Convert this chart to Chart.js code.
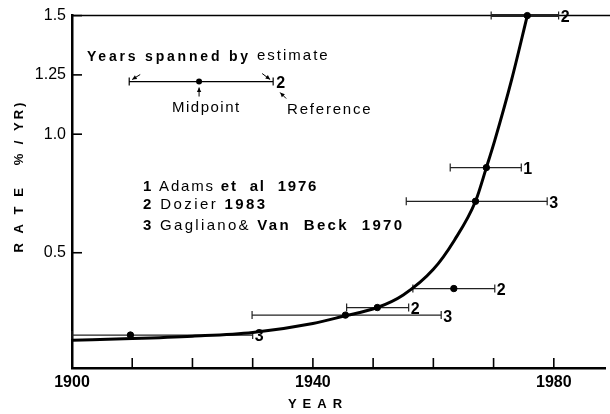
<!DOCTYPE html>
<html>
<head>
<meta charset="utf-8">
<script src="https://cdn.jsdelivr.net/npm/chart.js@4.4.1/dist/chart.umd.min.js"></script>
<style>
  html, body { margin: 0; padding: 0; background: #fff; }
  #wrap { width: 610px; height: 414px; position: relative; }
</style>
</head>
<body>
<div id="wrap"><canvas id="rate"></canvas></div>
<script>
// fitted curve (year, rate %/yr)
const curveYear = [1900, 1910, 1920, 1930, 1940, 1945, 1950.7, 1955, 1960, 1963.5, 1967, 1968.8, 1970.2, 1973, 1975.6];
const curveRate = [0.131, 0.138, 0.148, 0.164, 0.202, 0.232, 0.269, 0.322, 0.43, 0.553, 0.717, 0.859, 0.974, 1.23, 1.5];

// estimates: midpoint, span and reference number
const estYear = [1975.6, 1968.8, 1967.0, 1963.4, 1950.7, 1945.4, 1909.7];
const estLow  = [1969.6, 1962.8, 1955.5, 1956.6, 1945.6, 1929.9, 1900];
const estHigh = [1980.8, 1974.6, 1978.9, 1970.2, 1955.9, 1961.3, 1930];
const estRate = [1.5, 0.859, 0.717, 0.349, 0.269, 0.237, 0.153];
const estRef  = ["2", "1", "3", "2", "2", "3", "3"];

// axes
const xTicks = [1900, 1910, 1920, 1930, 1940, 1950, 1960, 1970, 1980];
const xLabels = [1900, 1940, 1980];
const yTicks = [0.5, 1.0, 1.25, 1.5];
const yLabels = ["0.5", "1.0", "1.25", "1.5"];

// key example (years spanned / midpoint / reference)
const keyLow = 1909.5, keyMid = 1921.1, keyHigh = 1933.4, keyRate = 1.222;

const FONT = "'Liberation Sans', Arial, sans-serif";

function txt(ctx, parts, x, y, size, spacing) {
  ctx.save();
  ctx.textBaseline = "middle";
  ctx.textAlign = "left";
  ctx.letterSpacing = (spacing || 0) + "px";
  let cx = x;
  parts.forEach(([s, bold]) => {
    ctx.font = (bold ? "bold " : "") + size + "px " + FONT;
    ctx.fillText(s, cx, y);
    cx += ctx.measureText(s).width;
  });
  ctx.restore();
}

function arrow(ctx, x1, y1, x2, y2) {
  ctx.beginPath();
  ctx.moveTo(x1, y1);
  ctx.lineTo(x2, y2);
  ctx.stroke();
  const a = Math.atan2(y2 - y1, x2 - x1);
  ctx.beginPath();
  ctx.moveTo(x2, y2);
  ctx.lineTo(x2 - 5 * Math.cos(a - 0.45), y2 - 5 * Math.sin(a - 0.45));
  ctx.lineTo(x2 - 5 * Math.cos(a + 0.45), y2 - 5 * Math.sin(a + 0.45));
  ctx.closePath();
  ctx.fill();
}

const extras = {
  id: "extras",
  beforeDatasetsDraw(chart) {
    const { ctx, chartArea: a } = chart;
    const xs = chart.scales.x, ys = chart.scales.y;
    ctx.save();
    ctx.strokeStyle = "#000";
    ctx.fillStyle = "#000";
    // top frame line
    ctx.lineWidth = 1.5;
    ctx.beginPath();
    ctx.moveTo(a.left, a.top);
    ctx.lineTo(chart.width, a.top);
    ctx.stroke();
    // inside ticks
    ctx.lineWidth = 1.6;
    xTicks.forEach(v => {
      const px = xs.getPixelForValue(v);
      ctx.beginPath();
      ctx.moveTo(px, a.bottom);
      ctx.lineTo(px, a.bottom - 10);
      ctx.stroke();
    });
    yTicks.forEach(v => {
      const py = ys.getPixelForValue(v);
      ctx.beginPath();
      ctx.moveTo(a.left, py);
      ctx.lineTo(a.left + 10, py);
      ctx.stroke();
    });
    // error bars
    estYear.forEach((m, i) => {
      const x1 = xs.getPixelForValue(estLow[i]);
      const x2 = xs.getPixelForValue(estHigh[i]);
      const py = ys.getPixelForValue(estRate[i]);
      ctx.lineWidth = i === 0 ? 3 : 1.2;
      ctx.strokeStyle = "#222";
      ctx.beginPath();
      ctx.moveTo(x1, py);
      ctx.lineTo(x2, py);
      ctx.stroke();
      ctx.lineWidth = 1.2;
      ctx.beginPath();
      ctx.moveTo(x1, py - 4); ctx.lineTo(x1, py + 4);
      ctx.moveTo(x2, py - 4); ctx.lineTo(x2, py + 4);
      ctx.stroke();
      txt(ctx, [[estRef[i], true]], x2 + 2, py + 2, 16, 0);
    });
    ctx.restore();
  },
  afterDraw(chart) {
    const { ctx } = chart;
    const xs = chart.scales.x, ys = chart.scales.y;
    ctx.save();
    ctx.fillStyle = "#000";
    ctx.strokeStyle = "#000";

    // key
    const k1 = xs.getPixelForValue(keyLow), k2 = xs.getPixelForValue(keyHigh);
    const km = xs.getPixelForValue(keyMid), ky = ys.getPixelForValue(keyRate);
    ctx.lineWidth = 1.2;
    ctx.beginPath();
    ctx.moveTo(k1, ky); ctx.lineTo(k2, ky);
    ctx.moveTo(k1, ky - 4); ctx.lineTo(k1, ky + 4);
    ctx.moveTo(k2, ky - 4); ctx.lineTo(k2, ky + 4);
    ctx.stroke();
    ctx.beginPath();
    ctx.arc(km, ky, 3, 0, Math.PI * 2);
    ctx.fill();
    ctx.lineWidth = 1;
    arrow(ctx, k1 + 11, ky - 7, k1 + 3, ky - 2);
    arrow(ctx, k2 - 11, ky - 8, k2 - 3, ky - 2);
    arrow(ctx, km, ky + 15, km, ky + 6);
    arrow(ctx, k2 + 13, ky + 17, k2 + 7, ky + 11);
    txt(ctx, [["Years spanned by", true]], 87, 57, 14, 2.8);
    txt(ctx, [["estimate", false]], 257, 56, 15, 2);
    txt(ctx, [["Midpoint", false]], 172, 108, 15, 1.5);
    txt(ctx, [["Reference", false]], 287, 110, 15, 1.8);
    txt(ctx, [["2", true]], k2 + 3, ky + 2, 16, 0);

    // reference list
    txt(ctx, [["1 ", true], ["Adams ", false], ["et  al  1976", true]], 143, 187, 15, 1.8);
    txt(ctx, [["2 ", true], ["Dozier ", false], ["1983", true]], 143, 205, 15, 2.4);
    txt(ctx, [["3 ", true], ["Gagliano& ", false], ["Van  Beck  1970", true]], 143, 226, 15, 2.3);

    // axis titles
    ctx.save();
    ctx.translate(19, 176);
    ctx.rotate(-Math.PI / 2);
    ctx.textAlign = "center";
    ctx.textBaseline = "middle";
    ctx.letterSpacing = "3px";
    ctx.font = "bold 13px " + FONT;
    ctx.fillText("R A T E   % / YR)", 0, 0);
    ctx.restore();
    ctx.textAlign = "center";
    ctx.textBaseline = "middle";
    ctx.letterSpacing = "6px";
    ctx.font = "bold 13px " + FONT;
    ctx.fillText("YEAR", 318, 404);
    ctx.restore();
  }
};

new Chart(document.getElementById("rate"), {
  type: "scatter",
  data: {
    datasets: [
      {
        label: "curve",
        data: curveYear.map((x, i) => ({ x, y: curveRate[i] })),
        showLine: true,
        borderColor: "#000",
        borderWidth: 3,
        pointRadius: 0,
        cubicInterpolationMode: "monotone",
        clip: false,
      },
      {
        label: "estimates",
        data: estYear.map((x, i) => ({ x, y: estRate[i] })),
        backgroundColor: "#000",
        borderColor: "#000",
        pointRadius: 3.2,
        clip: false,
      },
    ],
  },
  options: {
    responsive: true,
    maintainAspectRatio: false,
    animation: false,
    layout: { padding: { top: 15, right: 0, left: 0, bottom: 0 } },
    plugins: { legend: { display: false }, tooltip: { enabled: false } },
    scales: {
      x: {
        type: "linear",
        min: 1900,
        max: 1988.5,
        afterBuildTicks: (s) => { s.ticks = xTicks.map(v => ({ value: v })); },
        afterFit: (s) => { s.height = 46; },
        grid: { drawOnChartArea: false, drawTicks: false },
        border: { display: true, color: "#000", width: 2.5 },
        ticks: {
          padding: 5,
          color: "#000",
          font: { family: FONT, size: 16, weight: "bold" },
          maxRotation: 0,
          autoSkip: false,
          callback: (v) => (xLabels.includes(v) ? String(v) : ""),
        },
      },
      y: {
        min: 0.014,
        max: 1.5,
        afterBuildTicks: (s) => { s.ticks = yTicks.map(v => ({ value: v })); },
        afterFit: (s) => { s.width = 72; },
        grid: { drawOnChartArea: false, drawTicks: false },
        border: { display: true, color: "#000", width: 2.5 },
        ticks: {
          padding: 6,
          color: "#000",
          font: { family: FONT, size: 16 },
          callback: (v) => yLabels[yTicks.indexOf(v)] || "",
        },
      },
    },
  },
  plugins: [extras],
});
</script>
</body>
</html>
